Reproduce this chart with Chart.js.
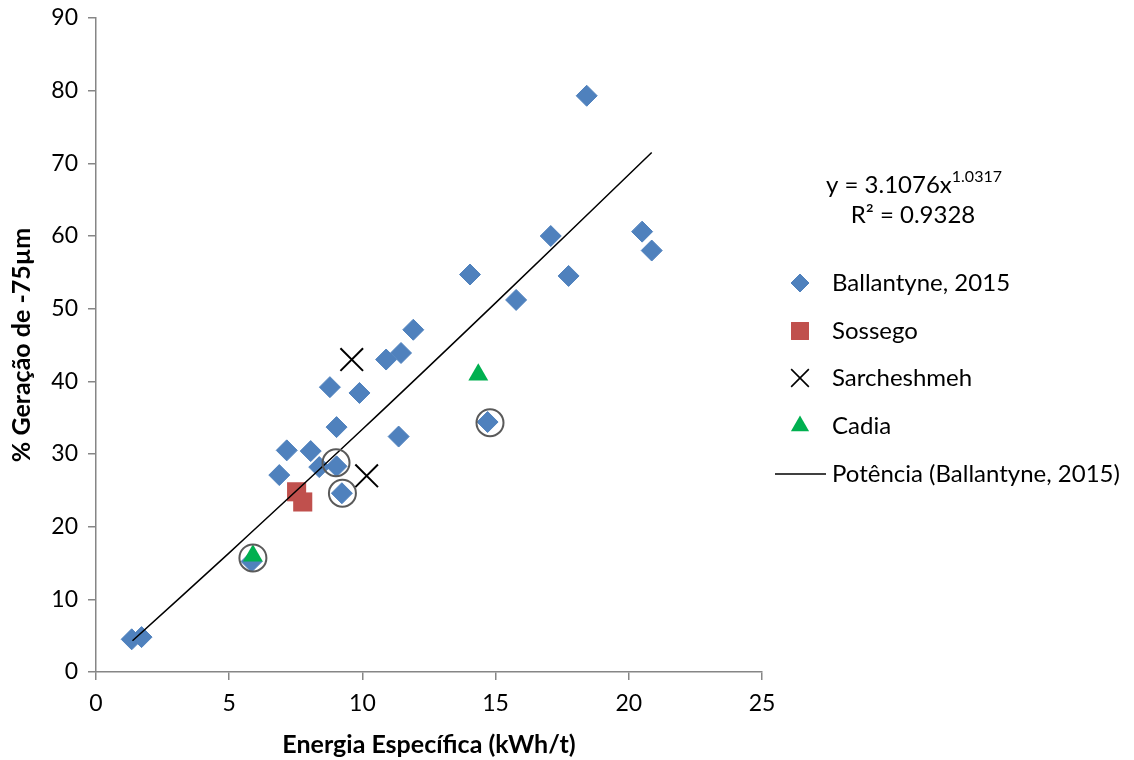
<!DOCTYPE html>
<html>
<head>
<meta charset="utf-8">
<script src="https://cdn.jsdelivr.net/npm/chart.js@4/dist/chart.umd.min.js"></script>
<style>
    html, body { margin: 0; padding: 0; background: #fff; }
    #wrap { width: 1134px; height: 760px; position: relative; }
</style>
</head>
<body>
<div id="wrap"><canvas id="chart" width="1134" height="760"></canvas></div>
<script>
// Ballantyne, 2015
const ballantyneX = [1.34, 1.71, 5.84, 6.88, 7.16, 8.06, 8.38, 8.78, 9.03, 9.03, 9.23, 9.89, 10.89, 11.45, 11.36, 11.91, 14.04, 14.70, 15.77, 17.07, 17.74, 18.42, 20.50, 20.86];
const ballantyneY = [4.5, 4.8, 15.2, 27.1, 30.5, 30.4, 28.2, 39.2, 33.7, 28.3, 24.6, 38.4, 43.0, 43.9, 32.4, 47.1, 54.7, 34.4, 51.2, 60.0, 54.5, 79.3, 60.6, 58.0];

const sossegoX = [7.53, 7.76];
const sossegoY = [24.8, 23.4];

const sarcheshmehX = [9.60, 10.16];
const sarcheshmehY = [43.0, 27.0];

const cadiaX = [5.89, 14.35];
const cadiaY = [16.0, 40.9];

// highlighted points (open circles)
const circledX = [5.89, 9.01, 9.25, 14.79];
const circledY = [15.7, 28.8, 24.6, 34.3];

// power trendline
const trendX = [1.37, 5, 10, 15, 20.86];
const trendY = [4.3, 16.4, 33.4, 50.8, 71.5];

const xTicks = [0, 5, 10, 15, 20, 25];
const yTicks = [0, 10, 20, 30, 40, 50, 60, 70, 80, 90];

const FONT = 'Lato, "Open Sans", sans-serif';
const AXIS = '#868686';

function pts(xs, ys) {
    return xs.map((x, i) => ({ x: x, y: ys[i] }));
}

const legendItems = [
    { label: 'Ballantyne, 2015', style: 'rectRot', radius: 9, fill: '#4F81BD', stroke: '#4F81BD', lw: 1 },
    { label: 'Sossego', style: 'rect', radius: 12.7, fill: '#C0504D', stroke: '#C0504D', lw: 0 },
    { label: 'Sarcheshmeh', style: 'crossRot', radius: 12.5, fill: '#000', stroke: '#000', lw: 1.6 },
    { label: 'Cadia', style: 'triangle', radius: 10.5, fill: '#00B050', stroke: '#00B050', lw: 0 },
    { label: 'Potência (Ballantyne, 2015)', style: 'line' }
];

const legendPlugin = {
    id: 'sideLegend',
    afterDraw(chart) {
        const ctx = chart.ctx;
        ctx.save();
        ctx.textBaseline = 'middle';

        // equation
        ctx.fillStyle = '#000';
        ctx.font = '24px ' + FONT;
        const eq = 'y = 3.1076x';
        const sup = '1.0317';
        const eqW = ctx.measureText(eq).width;
        ctx.font = '16px ' + FONT;
        const supW = ctx.measureText(sup).width;
        const eqLeft = 914 - (eqW + supW) / 2;
        ctx.font = '24px ' + FONT;
        ctx.textAlign = 'left';
        ctx.fillText(eq, eqLeft, 185);
        ctx.font = '16px ' + FONT;
        ctx.fillText(sup, eqLeft + eqW, 177);
        ctx.font = '24px ' + FONT;
        ctx.textAlign = 'center';
        ctx.fillText('R² = 0.9328', 913, 215);

        const rowY = [283, 331, 378, 426, 474];
        ctx.textAlign = 'left';
        legendItems.forEach((item, i) => {
            const y = rowY[i];
            if (item.style === 'line') {
                ctx.strokeStyle = '#000';
                ctx.lineWidth = 1.5;
                ctx.beginPath();
                ctx.moveTo(775, y);
                ctx.lineTo(826, y);
                ctx.stroke();
            } else {
                ctx.fillStyle = item.fill;
                ctx.strokeStyle = item.stroke;
                ctx.lineWidth = item.lw;
                Chart.helpers.drawPoint(ctx, {
                    pointStyle: item.style, radius: item.radius, rotation: 0, borderWidth: item.lw
                }, 800, y);
            }
            ctx.fillStyle = '#000';
            ctx.font = '24px ' + FONT;
            ctx.fillText(item.label, 832, y);
        });
        ctx.restore();
    }
};

new Chart(document.getElementById('chart'), {
    type: 'scatter',
    data: {
        datasets: [
            {
                label: 'circled',
                data: pts(circledX, circledY),
                pointStyle: 'circle',
                pointRadius: 13.5,
                backgroundColor: 'rgba(0,0,0,0)',
                borderColor: '#5a5a5a',
                pointBorderWidth: 2,
                order: 0
            },
            {
                label: 'Potência (Ballantyne, 2015)',
                type: 'line',
                data: pts(trendX, trendY),
                borderColor: '#000',
                borderWidth: 1.5,
                pointRadius: 0,
                tension: 0.4,
                fill: false,
                order: 1
            },
            {
                label: 'Cadia',
                data: pts(cadiaX, cadiaY),
                pointStyle: 'triangle',
                pointRadius: 11.5,
                backgroundColor: '#00B050',
                borderColor: '#00B050',
                pointBorderWidth: 0,
                order: 2
            },
            {
                label: 'Sarcheshmeh',
                data: pts(sarcheshmehX, sarcheshmehY),
                pointStyle: 'crossRot',
                pointRadius: 16,
                borderColor: '#000',
                pointBorderWidth: 2,
                order: 3
            },
            {
                label: 'Sossego',
                data: pts(sossegoX, sossegoY),
                pointStyle: 'rect',
                pointRadius: 13.5,
                backgroundColor: '#C0504D',
                borderColor: '#C0504D',
                pointBorderWidth: 0,
                order: 4
            },
            {
                label: 'Ballantyne, 2015',
                data: pts(ballantyneX, ballantyneY),
                pointStyle: 'rectRot',
                pointRadius: 10.5,
                backgroundColor: '#4F81BD',
                borderColor: '#4F81BD',
                pointBorderWidth: 1,
                order: 5
            }
        ]
    },
    options: {
        responsive: false,
        animation: false,
        layout: { padding: { left: 0, right: 372, top: 18, bottom: 0 } },
        plugins: { legend: { display: false }, tooltip: { enabled: false } },
        scales: {
            x: {
                type: 'linear',
                min: 0,
                max: 25,
                afterBuildTicks: (scale) => { scale.ticks = xTicks.map(v => ({ value: v })); },
                afterFit: (scale) => {
                    scale.height = 88;
                    scale.paddingLeft = 0;
                    scale.paddingRight = 0;
                },
                ticks: { color: '#000', padding: 10, font: { family: FONT, size: 23 } },
                grid: { drawOnChartArea: false, drawTicks: true, tickLength: 8, color: AXIS, lineWidth: 1.5 },
                border: { color: AXIS, width: 1.5 },
                title: {
                    display: true,
                    text: 'Energia Específica (kWh/t)',
                    color: '#000',
                    font: { family: FONT, size: 25, weight: 'bold' },
                    padding: { top: 0, bottom: 0 }
                }
            },
            y: {
                type: 'linear',
                min: 0,
                max: 90,
                afterBuildTicks: (scale) => { scale.ticks = yTicks.map(v => ({ value: v })); },
                afterFit: (scale) => {
                    scale.width = 96;
                    scale.paddingTop = 0;
                    scale.paddingBottom = 0;
                },
                ticks: { color: '#000', padding: 10, font: { family: FONT, size: 23 } },
                grid: { drawOnChartArea: false, drawTicks: true, tickLength: 8, color: AXIS, lineWidth: 1.5 },
                border: { color: AXIS, width: 1.5 },
                title: {
                    display: true,
                    text: '% Geração de -75µm',
                    color: '#000',
                    font: { family: FONT, size: 25, weight: 'bold' },
                    padding: { top: 7, bottom: 0 }
                }
            }
        }
    },
    plugins: [legendPlugin]
});
</script>
</body>
</html>
